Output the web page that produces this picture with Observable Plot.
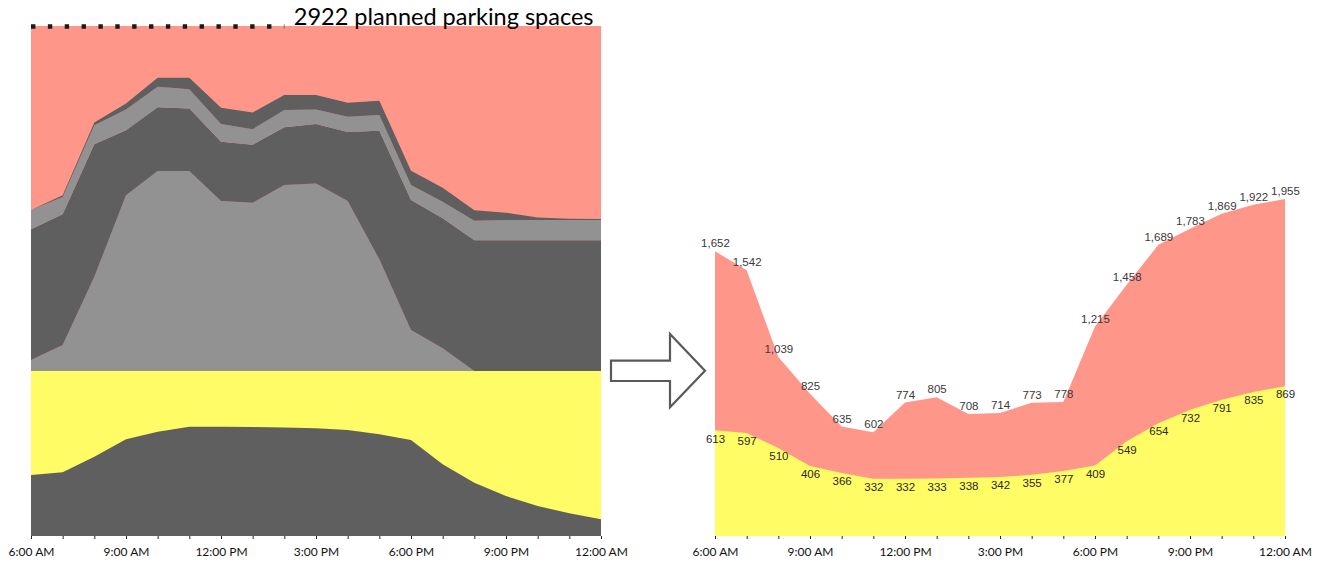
<!DOCTYPE html>
<html>
<head>
<meta charset="utf-8">
<script src="https://cdn.jsdelivr.net/npm/d3@7"></script>
<script src="https://cdn.jsdelivr.net/npm/@observablehq/plot@0.6"></script>
<style>
  html, body { margin: 0; padding: 0; background: #ffffff; }
  #stage { position: relative; width: 1321px; height: 564px; overflow: hidden; background: #ffffff; }
  #stage > svg { position: absolute; top: 0; max-width: none; }
</style>
</head>
<body>
<div id="stage"></div>
<script>
// Hours of the day, 6:00 AM (6) through midnight (24)
const hours = [6, 7, 8, 9, 10, 11, 12, 13, 14, 15, 16, 17, 18, 19, 20, 21, 22, 23, 24];
const tickLabels = ["6:00 AM", "9:00 AM", "12:00 PM", "3:00 PM", "6:00 PM", "9:00 PM", "12:00 AM"];

// Parking supply
const totalCapacity = 2922;
const lowerCapacity = 945;
const titleText = "2922 planned parking spaces";

// Occupied spaces in the lower block
const lowerOccupied = [349, 365, 454, 554, 598, 626, 626, 624, 621, 617, 607, 583, 550, 411, 305, 229, 172, 130, 96];

// Occupied spaces in the upper block, stacked from the bottom up
const upperBand1 = [63, 149, 540, 1008, 1146, 1146, 974, 964, 1066, 1075, 974, 640, 235, 130, 0, 0, 0, 0, 0];
const upperBand2 = [749, 749, 760, 372, 365, 359, 340, 332, 331, 340, 395, 737, 745, 745, 750, 750, 750, 750, 750];
const upperBand3 = [111, 99, 109, 119, 118, 109, 101, 90, 99, 84, 88, 90, 86, 95, 111, 115, 115, 115, 115];
const upperBand4 = [0, 11, 15, 34, 52, 66, 93, 96, 86, 82, 80, 82, 82, 80, 61, 42, 15, 7, 6];

// Empty spaces: all blocks combined, and the lower block alone
const totalEmpty = [1652, 1542, 1039, 825, 635, 602, 774, 805, 708, 714, 773, 778, 1215, 1458, 1689, 1783, 1869, 1922, 1955];
const lowerEmpty = [613, 597, 510, 406, 366, 332, 332, 333, 338, 342, 355, 377, 409, 549, 654, 732, 791, 835, 869];

const PINK = "#FF968A";
const YELLOW = "#FFFC66";
const DARK = "#5F5F5F";
const LIGHT = "#929292";

const fmtHour = h => ((h - hours[0]) % 3 === 0 ? tickLabels[(h - hours[0]) / 3] : "");
const fmtCount = d3.format(",");

const xAxis = () => Plot.axisX({
  ticks: hours, tickSize: 3, tickPadding: 8, tickFormat: fmtHour,
  fontSize: 12, fontFamily: "Lato", fill: "#111", stroke: "#222", label: null
});

// ---- Left: stacked occupancy inside the full supply ----
const upperLayers = ["base", "band1", "band2", "band3", "band4"];
const upperBands = [null, upperBand1, upperBand2, upperBand3, upperBand4];
const upperTable = hours.flatMap((h, i) => upperLayers.map((layer, k) => ({
  hour: h, layer, value: k === 0 ? lowerCapacity : upperBands[k][i]
})));

const left = Plot.plot({
  width: 620, height: 564,
  marginLeft: 31, marginRight: 19, marginTop: 26, marginBottom: 28,
  x: {domain: [hours[0], hours[hours.length - 1]]},
  y: {domain: [0, totalCapacity], axis: null},
  color: {domain: upperLayers, range: ["transparent", LIGHT, DARK, LIGHT, DARK]},
  style: {fontFamily: "Lato", background: "transparent", overflow: "visible"},
  marks: [
    Plot.areaY(hours, {x: d => d, y1: () => lowerCapacity, y2: () => totalCapacity, fill: PINK}),
    Plot.areaY(hours, {x: d => d, y1: () => 0, y2: () => lowerCapacity, fill: YELLOW}),
    Plot.areaY(hours, {x: d => d, y1: () => 0, y2: (d, i) => lowerOccupied[i], fill: DARK}),
    Plot.areaY(upperTable, {x: "hour", y: "value", z: "layer", fill: "layer"}),
    Plot.ruleY([totalCapacity], {
      x1: hours[0], x2: hours[8], stroke: "#1a1a1a", strokeWidth: 4.4,
      strokeDasharray: "4.4,12.46"
    }),
    Plot.text([titleText], {
      x: () => hours[8], y: () => totalCapacity, text: d => d,
      textAnchor: "start", lineAnchor: "bottom", dx: 9, dy: -2,
      fontSize: 23.5, fontFamily: "Lato", fill: "#000"
    }),
    xAxis()
  ]
});
left.style.left = "0px";

// ---- Right: empty spaces over the day ----
const emptyTable = hours.map((h, i) => ({hour: h, total: totalEmpty[i], lower: lowerEmpty[i]}));

const right = Plot.plot({
  width: 661, height: 564,
  marginLeft: 55, marginRight: 36, marginTop: 199, marginBottom: 28,
  x: {domain: [hours[0], hours[hours.length - 1]]},
  y: {domain: [0, d3.max(totalEmpty)], axis: null},
  style: {fontFamily: "Lato", background: "transparent", overflow: "visible"},
  marks: [
    Plot.areaY(emptyTable, {x: "hour", y1: () => 0, y2: "total", fill: PINK}),
    Plot.areaY(emptyTable, {x: "hour", y1: () => 0, y2: "lower", fill: YELLOW}),
    Plot.text(emptyTable, {
      x: "hour", y: "total", text: d => fmtCount(d.total), dy: -8,
      fontSize: 11.5, fontFamily: "Liberation Sans", fill: "#3a3a3a"
    }),
    Plot.text(emptyTable, {
      x: "hour", y: "lower", text: d => fmtCount(d.lower), dy: 8,
      fontSize: 11.5, fontFamily: "Liberation Sans", fill: "#2a2a2a"
    }),
    xAxis()
  ]
});
right.style.left = "660px";

const stage = document.getElementById("stage");
stage.appendChild(left);
stage.appendChild(right);

// Outlined arrow between the two panels
const ns = "http://www.w3.org/2000/svg";
const arrow = document.createElementNS(ns, "svg");
arrow.setAttribute("width", 1321);
arrow.setAttribute("height", 564);
arrow.style.left = "0px";
arrow.style.pointerEvents = "none";
const poly = document.createElementNS(ns, "polygon");
poly.setAttribute("points", "611,360.7 670,360.7 670,334 705,370.7 670,407.3 670,381 611,381");
poly.setAttribute("fill", "#ffffff");
poly.setAttribute("stroke", "#595959");
poly.setAttribute("stroke-width", "2.2");
poly.setAttribute("stroke-linejoin", "miter");
arrow.appendChild(poly);
stage.appendChild(arrow);
</script>
</body>
</html>
